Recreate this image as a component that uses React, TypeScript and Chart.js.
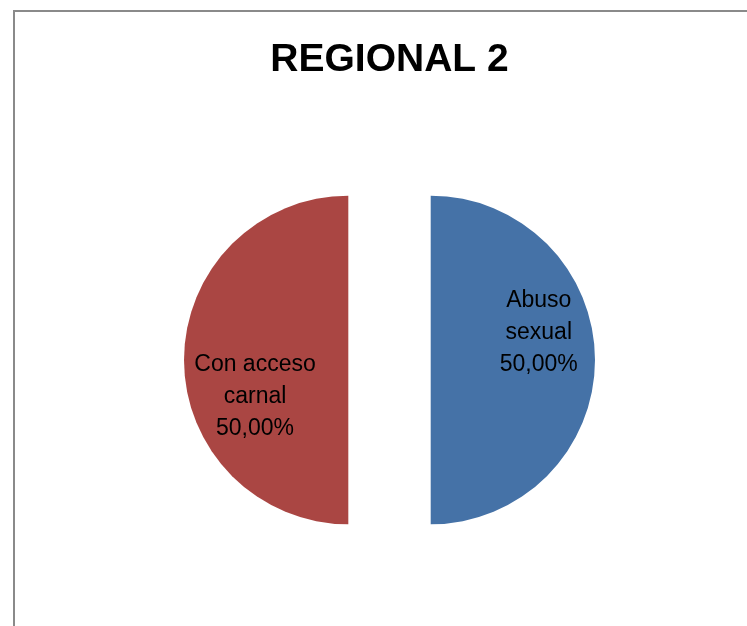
import { useEffect, useRef } from 'react';
import { Chart, registerables } from 'chart.js';

Chart.register(...registerables);

const chartTitle = 'REGIONAL 2';
const categories = ['Abuso sexual', 'Con acceso carnal'];
const values = [50, 50];
const sliceColors = ['#4572A7', '#AA4643'];

const EXPLODE = 41.2;
const LABEL_FONT = '23px "Liberation Sans", Arial, sans-serif';
const LABEL_LINE = 32;
const LABEL_WRAP = 125;
// label placement relative to each exploded slice (angle shift in degrees, radius fraction)
const labelShiftDeg = [-11, -24.7];
const labelRadiusFrac = [0.67, 0.625];

function wrapText(ctx: CanvasRenderingContext2D, text: string, maxW: number): string[] {
  const words = text.split(' ');
  const lines: string[] = [];
  let cur = '';
  for (const w of words) {
    const test = cur ? cur + ' ' + w : w;
    if (cur && ctx.measureText(test).width > maxW) {
      lines.push(cur);
      cur = w;
    } else {
      cur = test;
    }
  }
  if (cur) lines.push(cur);
  return lines;
}

function formatPct(v: number): string {
  return v.toFixed(2).replace('.', ',') + '%';
}

export default function App() {
  const ref = useRef<HTMLCanvasElement>(null);

  useEffect(() => {
    const canvas = ref.current;
    if (!canvas) return;

    const explodePlugin = {
      id: 'explodeSlices',
      beforeDatasetDraw(chart: any, args: any) {
        const ctx = chart.ctx;
        args.meta.data.forEach((arc: any) => {
          const { startAngle, endAngle } = arc.getProps(['startAngle', 'endAngle'], true);
          const mid = (startAngle + endAngle) / 2;
          ctx.save();
          ctx.translate(Math.cos(mid) * EXPLODE, Math.sin(mid) * EXPLODE);
          arc.draw(ctx, chart.chartArea);
          ctx.restore();
        });
        return false;
      },
    };

    const labelPlugin = {
      id: 'sliceLabels',
      afterDatasetsDraw(chart: any) {
        const ctx: CanvasRenderingContext2D = chart.ctx;
        const meta = chart.getDatasetMeta(0);
        const data: number[] = chart.data.datasets[0].data;
        const total = data.reduce((a, b) => a + b, 0);
        ctx.save();
        ctx.font = LABEL_FONT;
        ctx.fillStyle = '#000000';
        ctx.textAlign = 'center';
        ctx.textBaseline = 'alphabetic';
        meta.data.forEach((arc: any, i: number) => {
          const { x, y, startAngle, endAngle, outerRadius } = arc.getProps(
            ['x', 'y', 'startAngle', 'endAngle', 'outerRadius'],
            true
          );
          const mid = (startAngle + endAngle) / 2;
          const cx = x + Math.cos(mid) * EXPLODE;
          const cy = y + Math.sin(mid) * EXPLODE;
          const a = mid + (labelShiftDeg[i] * Math.PI) / 180;
          const ax = cx + Math.cos(a) * outerRadius * labelRadiusFrac[i];
          const ay = cy + Math.sin(a) * outerRadius * labelRadiusFrac[i];
          const lines = wrapText(ctx, chart.data.labels[i], LABEL_WRAP);
          lines.push(formatPct((data[i] / total) * 100));
          const n = lines.length;
          lines.forEach((ln, j) => {
            ctx.fillText(ln, ax, ay + (j - (n - 1) / 2) * LABEL_LINE);
          });
        });
        ctx.restore();
      },
    };

    const chart = new Chart(canvas, {
      type: 'pie',
      data: {
        labels: categories,
        datasets: [
          {
            data: values,
            backgroundColor: sliceColors,
            borderWidth: 0,
            hoverOffset: 0,
          },
        ],
      },
      options: {
        responsive: false,
        animation: false,
        events: [],
        layout: {
          padding: { left: 32, right: 0, top: 0, bottom: 101.7 },
        },
        plugins: {
          legend: { display: false },
          tooltip: { enabled: false },
          title: {
            display: true,
            text: chartTitle,
            color: '#000000',
            font: { family: '"Liberation Sans", Arial, sans-serif', size: 39, weight: 'bold', lineHeight: 1.2 },
            padding: { top: 37.1, bottom: 111.8 },
          },
        },
      },
      plugins: [explodePlugin, labelPlugin],
    });

    return () => chart.destroy();
  }, []);

  return (
    <div
      style={{
        position: 'absolute',
        left: 0,
        top: 0,
        width: 747,
        height: 626,
        overflow: 'hidden',
        background: '#ffffff',
      }}
    >
      <div
        style={{
          position: 'absolute',
          left: 13,
          top: 10,
          width: 900,
          height: 900,
          borderLeft: '2px solid #8a8a8a',
          borderTop: '2px solid #8a8a8a',
        }}
      />
      <canvas
        ref={ref}
        width={747}
        height={626}
        style={{ position: 'absolute', left: 0, top: 0, width: 747, height: 626 }}
      />
    </div>
  );
}
